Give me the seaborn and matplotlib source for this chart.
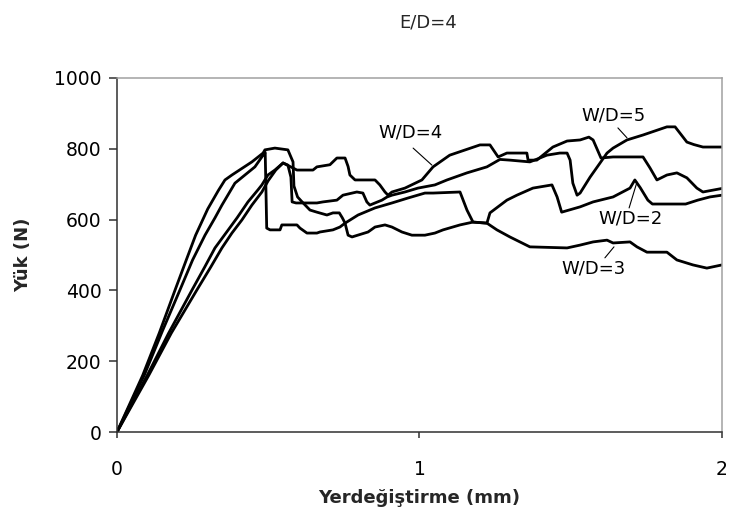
import matplotlib
matplotlib.use("Agg")
import matplotlib.pyplot as plt
import seaborn as sns
import pandas as pd

# Load–displacement curves, E/D = 4, for four W/D ratios
wd2_x = [0, 0.085, 0.140, 0.192, 0.230, 0.260, 0.300, 0.335, 0.357, 0.380, 0.446, 0.483, 0.489, 0.522,
         0.565, 0.582, 0.585, 0.597, 0.612, 0.638, 0.661, 0.694, 0.714, 0.735, 0.745, 0.754, 0.764, 0.777,
         0.830, 0.853, 0.886, 0.909, 0.942, 0.975, 1.018, 1.051, 1.078, 1.134, 1.177, 1.223, 1.233, 1.289,
         1.322, 1.375, 1.438, 1.455, 1.470, 1.531, 1.574, 1.640, 1.696, 1.712, 1.730, 1.755, 1.770, 1.880,
         1.920, 1.960, 2.0]
wd2_y = [0, 160, 280, 401, 488, 556, 630, 682, 712, 726, 763, 788, 797, 802,
         797, 763, 695, 664, 650, 627, 621, 613, 619, 619, 605, 590, 556, 551,
         565, 579, 585, 579, 565, 556, 556, 562, 571, 585, 593, 590, 619, 655,
         669, 689, 698, 664, 621, 636, 650, 664, 689, 712, 690, 655, 644, 644,
         655, 664, 669]

wd3_x = [0, 0.090, 0.150, 0.208, 0.250, 0.291, 0.324, 0.347, 0.390, 0.456, 0.483, 0.490, 0.495, 0.506,
         0.539, 0.545, 0.595, 0.605, 0.628, 0.661, 0.671, 0.714, 0.737, 0.754, 0.797, 0.853, 0.909, 0.962,
         1.018, 1.045, 1.134, 1.157, 1.177, 1.223, 1.256, 1.299, 1.365, 1.488, 1.531, 1.574, 1.620, 1.640,
         1.696, 1.719, 1.752, 1.818, 1.851, 1.904, 1.950, 2.0]
wd3_y = [0, 160, 285, 401, 486, 556, 605, 641, 703, 749, 782, 790, 576, 571,
         571, 585, 585, 576, 562, 562, 565, 571, 579, 590, 613, 633, 647, 661,
         675, 675, 678, 627, 593, 590, 571, 551, 523, 520, 528, 537, 542, 534,
         537, 523, 508, 508, 486, 472, 463, 472]

wd4_x = [0, 0.100, 0.170, 0.248, 0.290, 0.324, 0.367, 0.397, 0.433, 0.466, 0.479, 0.499, 0.522, 0.549,
         0.595, 0.648, 0.661, 0.704, 0.727, 0.754, 0.764, 0.770, 0.787, 0.853, 0.869, 0.886, 0.896, 0.909,
         0.952, 1.008, 1.045, 1.100, 1.200, 1.233, 1.260, 1.289, 1.355, 1.359, 1.388, 1.408, 1.441, 1.488,
         1.531, 1.560, 1.574, 1.600, 1.640, 1.739, 1.762, 1.785, 1.818, 1.851, 1.884, 1.917, 1.937, 2.0]
wd4_y = [0, 160, 278, 401, 466, 520, 570, 605, 650, 684, 698, 726, 740, 760,
         740, 740, 749, 755, 774, 774, 750, 726, 712, 712, 698, 678, 669, 678,
         689, 712, 749, 782, 811, 811, 777, 788, 788, 768, 768, 782, 805, 822,
         825, 833, 825, 774, 777, 777, 746, 712, 726, 732, 718, 689, 678, 688]

wd5_x = [0, 0.105, 0.180, 0.264, 0.310, 0.347, 0.380, 0.413, 0.446, 0.479, 0.500, 0.525, 0.549, 0.565,
         0.575, 0.579, 0.592, 0.661, 0.681, 0.727, 0.747, 0.793, 0.813, 0.826, 0.836, 0.853, 0.876, 0.893,
         0.909, 0.952, 0.995, 1.051, 1.091, 1.157, 1.223, 1.266, 1.299, 1.365, 1.398, 1.421, 1.464, 1.488,
         1.498, 1.507, 1.521, 1.531, 1.564, 1.597, 1.620, 1.640, 1.686, 1.739, 1.818, 1.845, 1.865, 1.884,
         1.907, 1.937, 2.0]
wd5_y = [0, 160, 280, 401, 466, 520, 562, 599, 641, 678, 710, 740, 760, 754,
         720, 650, 647, 647, 650, 655, 669, 678, 675, 650, 641, 647, 655, 664,
         669, 678, 689, 698, 712, 732, 749, 770, 768, 763, 774, 782, 788, 788,
         768, 703, 669, 675, 720, 760, 788, 802, 825, 839, 862, 862, 840, 819,
         812, 805, 805]

series_names = ["W/D=2", "W/D=3", "W/D=4", "W/D=5"]
x_ticks = [0, 1, 2]
y_ticks = [0, 200, 400, 600, 800, 1000]

frames = []
for name, xs, ys in zip(series_names, [wd2_x, wd3_x, wd4_x, wd5_x], [wd2_y, wd3_y, wd4_y, wd5_y]):
    frames.append(pd.DataFrame({"disp": xs, "load": ys, "curve": name}))
df = pd.concat(frames, ignore_index=True)

sns.set_style("white")
plt.rcParams["font.family"] = ["DejaVu Sans"]

fig = plt.figure(figsize=(7.32, 5.20), dpi=100)
ax = fig.add_axes([0.1598, 0.1692, 0.8265, 0.6808])

sns.lineplot(data=df, x="disp", y="load", units="curve", estimator=None, sort=False,
             color="black", linewidth=2.0, ax=ax, legend=False)

ax.set_xlim(0, 2)
ax.set_ylim(0, 1000)
ax.set_xticks(x_ticks)
ax.set_yticks(y_ticks)
ax.set_xticklabels([str(t) for t in x_ticks])
ax.set_yticklabels([str(t) for t in y_ticks])

dark = "#303030"
for side in ["left", "bottom"]:
    ax.spines[side].set_color(dark)
    ax.spines[side].set_linewidth(1.1)
for side in ["top", "right"]:
    ax.spines[side].set_color("#a0a0a0")
    ax.spines[side].set_linewidth(1.1)

ax.tick_params(axis="y", direction="out", length=6, width=1.1, color=dark, pad=5,
               labelsize=13.5, labelcolor="black", left=True)
ax.tick_params(axis="x", direction="out", length=4.5, width=1.1, color=dark, pad=16,
               labelsize=13.5, labelcolor="black", bottom=True)

ax.set_xlabel("Yerdeğiştirme (mm)", fontsize=13, fontweight="bold", labelpad=7)
ax.set_ylabel("Yük (N)", fontsize=13, fontweight="bold", labelpad=16)
fig.text(0.585, 0.957, "E/D=4", ha="center", va="center", fontsize=13)

# Curve labels with leader lines
labels = [
    ("W/D=4", (0.969, 845), (0.979, 802), (1.041, 754)),
    ("W/D=5", (1.643, 893), (1.656, 859), (1.686, 831)),
    ("W/D=2", (1.699, 602), (1.693, 633), (1.719, 706)),
    ("W/D=3", (1.574, 463), (1.613, 492), (1.643, 523)),
]
for text, pos, start, end in labels:
    ax.text(pos[0], pos[1], text, ha="center", va="center", fontsize=13, color="black")
    ax.annotate("", xy=end, xytext=start,
                arrowprops=dict(arrowstyle="-", color="black", lw=0.8, shrinkA=0, shrinkB=0))

fig.savefig("out.png", dpi=100)
